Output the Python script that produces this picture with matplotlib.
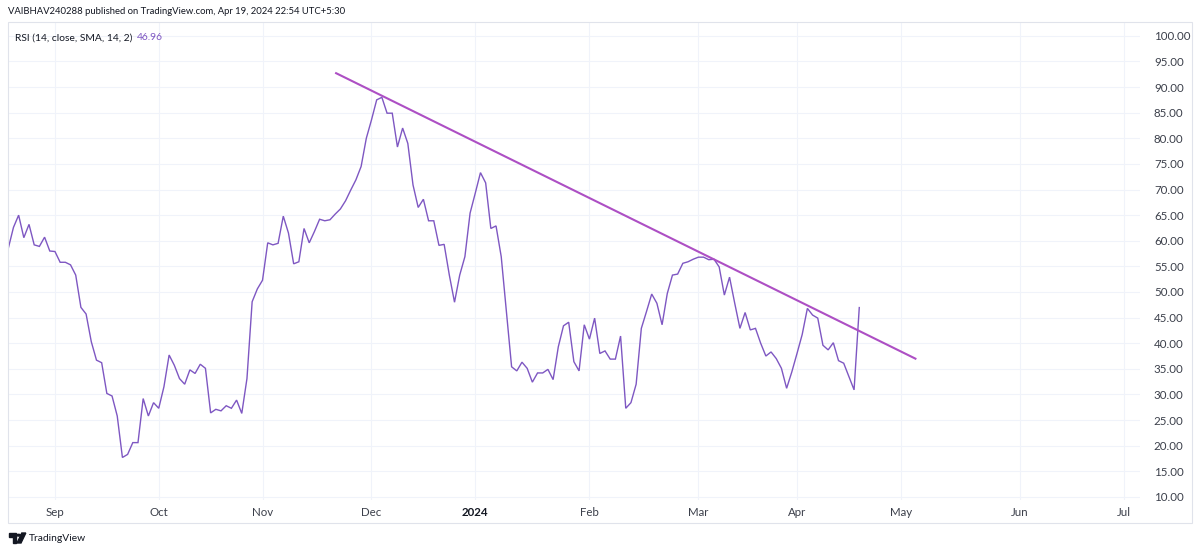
import numpy as np
import pandas as pd
import matplotlib
matplotlib.use("Agg")
import matplotlib.pyplot as plt
from matplotlib.patches import Rectangle, Circle, Polygon

# ---------------- data ----------------
header = "VAIBHAV240288 published on TradingView.com, Apr 19, 2024 22:54 UTC+5:30"
indicator_name = "RSI (14, close, SMA, 14, 2)"
last_value_label = "46.96"
brand = "TradingView"

first_date = "2023-08-21"
last_date = "2024-04-19"
axis_end = "2024-07-05"
nse_holidays = ["2023-09-19", "2023-10-02", "2023-10-24", "2023-11-14", "2023-11-27",
                "2023-12-25", "2024-01-22", "2024-01-26", "2024-03-08", "2024-03-25",
                "2024-03-29", "2024-04-11", "2024-04-17"]
special_sessions = ["2023-11-12", "2024-01-20", "2024-03-02"]

rsi = [
    58.5, 62.6, 65.0, 60.6, 63.2, 59.2, 58.9, 60.7, 58.0, 57.9,
    55.8, 55.8, 55.3, 53.3, 47.0, 45.7, 40.3, 36.7, 36.2, 30.2,
    29.7, 25.8, 17.7, 18.3, 20.6, 20.6, 29.2, 25.8, 28.4, 27.3,
    31.5, 37.7, 35.7, 33.1, 32.0, 34.8, 34.1, 35.9, 35.1, 26.4,
    27.1, 26.8,
    27.8, 27.3, 28.9, 26.3, 33.1,
    48.1, 50.6, 52.3, 59.6, 59.2, 59.5, 64.8, 61.5, 55.5, 55.9,
    62.4, 59.6, 61.8, 64.2, 63.9, 64.1, 65.2, 66.2, 67.8, 69.9,
    71.9, 74.5, 80.0, 83.6, 87.5, 88.0, 84.9, 84.9, 78.3, 82.0,
    79.0, 70.9, 66.5, 68.1, 63.9, 63.9, 59.1,
    59.3, 53.3, 48.0, 53.3, 56.9, 65.4, 69.3, 73.3, 71.3, 62.4,
    62.9, 56.9, 46.2, 35.4, 34.6, 36.3, 35.1, 32.4, 34.2, 34.2,
    34.9, 32.9, 39.3, 43.4, 44.1, 36.4, 34.6, 43.6, 40.8, 44.9,
    38.0, 38.5, 36.9, 36.9, 41.4, 27.3, 28.4, 32.0, 42.9, 46.2,
    49.6,
    47.8, 43.6, 49.7, 53.3, 53.5, 55.6, 55.9, 56.4, 56.8, 56.8,
    56.3, 56.4, 54.9, 49.4, 52.9, 47.8, 42.9, 46.0, 42.6, 42.9,
    40.0, 37.5, 38.3, 37.0, 35.1, 31.2, 34.4, 38.0, 41.7, 46.8,
    45.5, 44.9, 39.6, 38.7, 40.1, 36.6, 36.1, 33.5, 30.9, 46.96,
]

trend_dates = ["2023-11-21", "2024-05-06"]
trend_values = [92.8, 36.9]

y_ticks = list(range(10, 101, 5))

# ---------------- calendar (bar index axis like TradingView) ----------------
days = pd.bdate_range(first_date, last_date)
days = days.difference(pd.to_datetime(nse_holidays)).union(pd.to_datetime(special_sessions))
days = days.sort_values()
n = len(rsi)
days = days[-n:]
future = pd.bdate_range(pd.Timestamp(last_date) + pd.Timedelta(days=1), axis_end)
all_days = days.append(future)
idx = np.arange(len(all_days))

tick_pos, tick_lab, tick_bold = [], [], []
prev_month = all_days[0].month
for i, d in enumerate(all_days):
    if d.month != prev_month:
        tick_pos.append(i)
        if d.month == 1:
            tick_lab.append(str(d.year)); tick_bold.append(True)
        else:
            tick_lab.append(d.strftime("%b")); tick_bold.append(False)
    prev_month = d.month

trend_x = [all_days.get_loc(pd.Timestamp(t)) for t in trend_dates]

# ---------------- figure ----------------
W, H = 1200, 553
FONT = ["Lato", "DejaVu Sans"]
plt.rcParams["font.family"] = FONT
fig = plt.figure(figsize=(W / 100, H / 100), dpi=100)
fig.patch.set_facecolor("white")

def fx(px):
    return px / W

def fy(py):
    return 1 - py / H

pane_l, pane_r, pane_t, pane_b = 8, 1140, 22, 500
ax = fig.add_axes([fx(pane_l), fy(pane_b), fx(pane_r - pane_l), (pane_b - pane_t) / H])
ax.set_facecolor("white")
for s in ax.spines.values():
    s.set_visible(False)

ax.set_xlim(-0.05, 218.1)
ax.set_ylim(9.4, 102.7)

TXT = "#131722"
LBL = "#3b3f4a"
ax.set_yticks(y_ticks)
ax.set_yticklabels([f"{v:.2f}" for v in y_ticks])
ax.yaxis.tick_right()
ax.tick_params(axis="y", length=0, pad=10, labelsize=8.3, labelcolor=LBL)
ax.set_xticks(tick_pos)
ax.set_xticklabels(tick_lab)
ax.tick_params(axis="x", length=0, pad=5, labelsize=8.3, labelcolor=LBL)
for lab, b in zip(ax.get_xticklabels(), tick_bold):
    if b:
        lab.set_fontweight("bold")
        lab.set_color(TXT)

ax.grid(True, color="#f0f3fa", linewidth=0.8)
ax.set_axisbelow(True)

ax.plot(idx[:n], rsi, color="#7e57c2", linewidth=1.0, solid_joinstyle="miter")
ax.plot(trend_x, trend_values, color="#ad4fc4", linewidth=1.5, solid_capstyle="butt")

# outer frame
fig.patches.append(Rectangle((fx(8), fy(523)), fx(1192 - 8), (523 - 22) / H,
                             transform=fig.transFigure, fill=False,
                             edgecolor="#e0e3eb", linewidth=0.8))

fig.canvas.draw()

def fit_text(x_px, y_px, s, width_px, color, size0=9.0):
    t = fig.text(fx(x_px), fy(y_px), s, fontsize=size0, color=color, va="center", ha="left")
    for _ in range(3):
        fig.canvas.draw()
        w = t.get_window_extent(fig.canvas.get_renderer()).width
        t.set_fontsize(t.get_fontsize() * width_px / w)
    return t

fit_text(8, 12, header, 338, TXT)
t1 = fit_text(15, 38, indicator_name, 117, TXT)
fig.text(fx(137), fy(38), last_value_label, fontsize=t1.get_fontsize(), color="#7e57c2",
         va="center", ha="left")

# TradingView logo + brand text
def P(x, y):
    return (fx(x), fy(y))

logo_col = TXT
fig.patches.append(Polygon([P(8.5, 533), P(16, 533), P(16, 543), P(12.5, 543),
                            P(12.5, 537), P(8.5, 537)], closed=True,
                           transform=fig.transFigure, color=logo_col))
fig.patches.append(Polygon([P(17.0, 543), P(21.0, 543), P(25.8, 533), P(21.8, 533)],
                           closed=True, transform=fig.transFigure, color=logo_col))
fig.patches.append(Circle(P(18.6, 535.2), 1.9 / W, transform=fig.transFigure, color=logo_col))
fit_text(29, 538.5, brand, 57, TXT)

fig.savefig("out.png", dpi=100, facecolor="white")
